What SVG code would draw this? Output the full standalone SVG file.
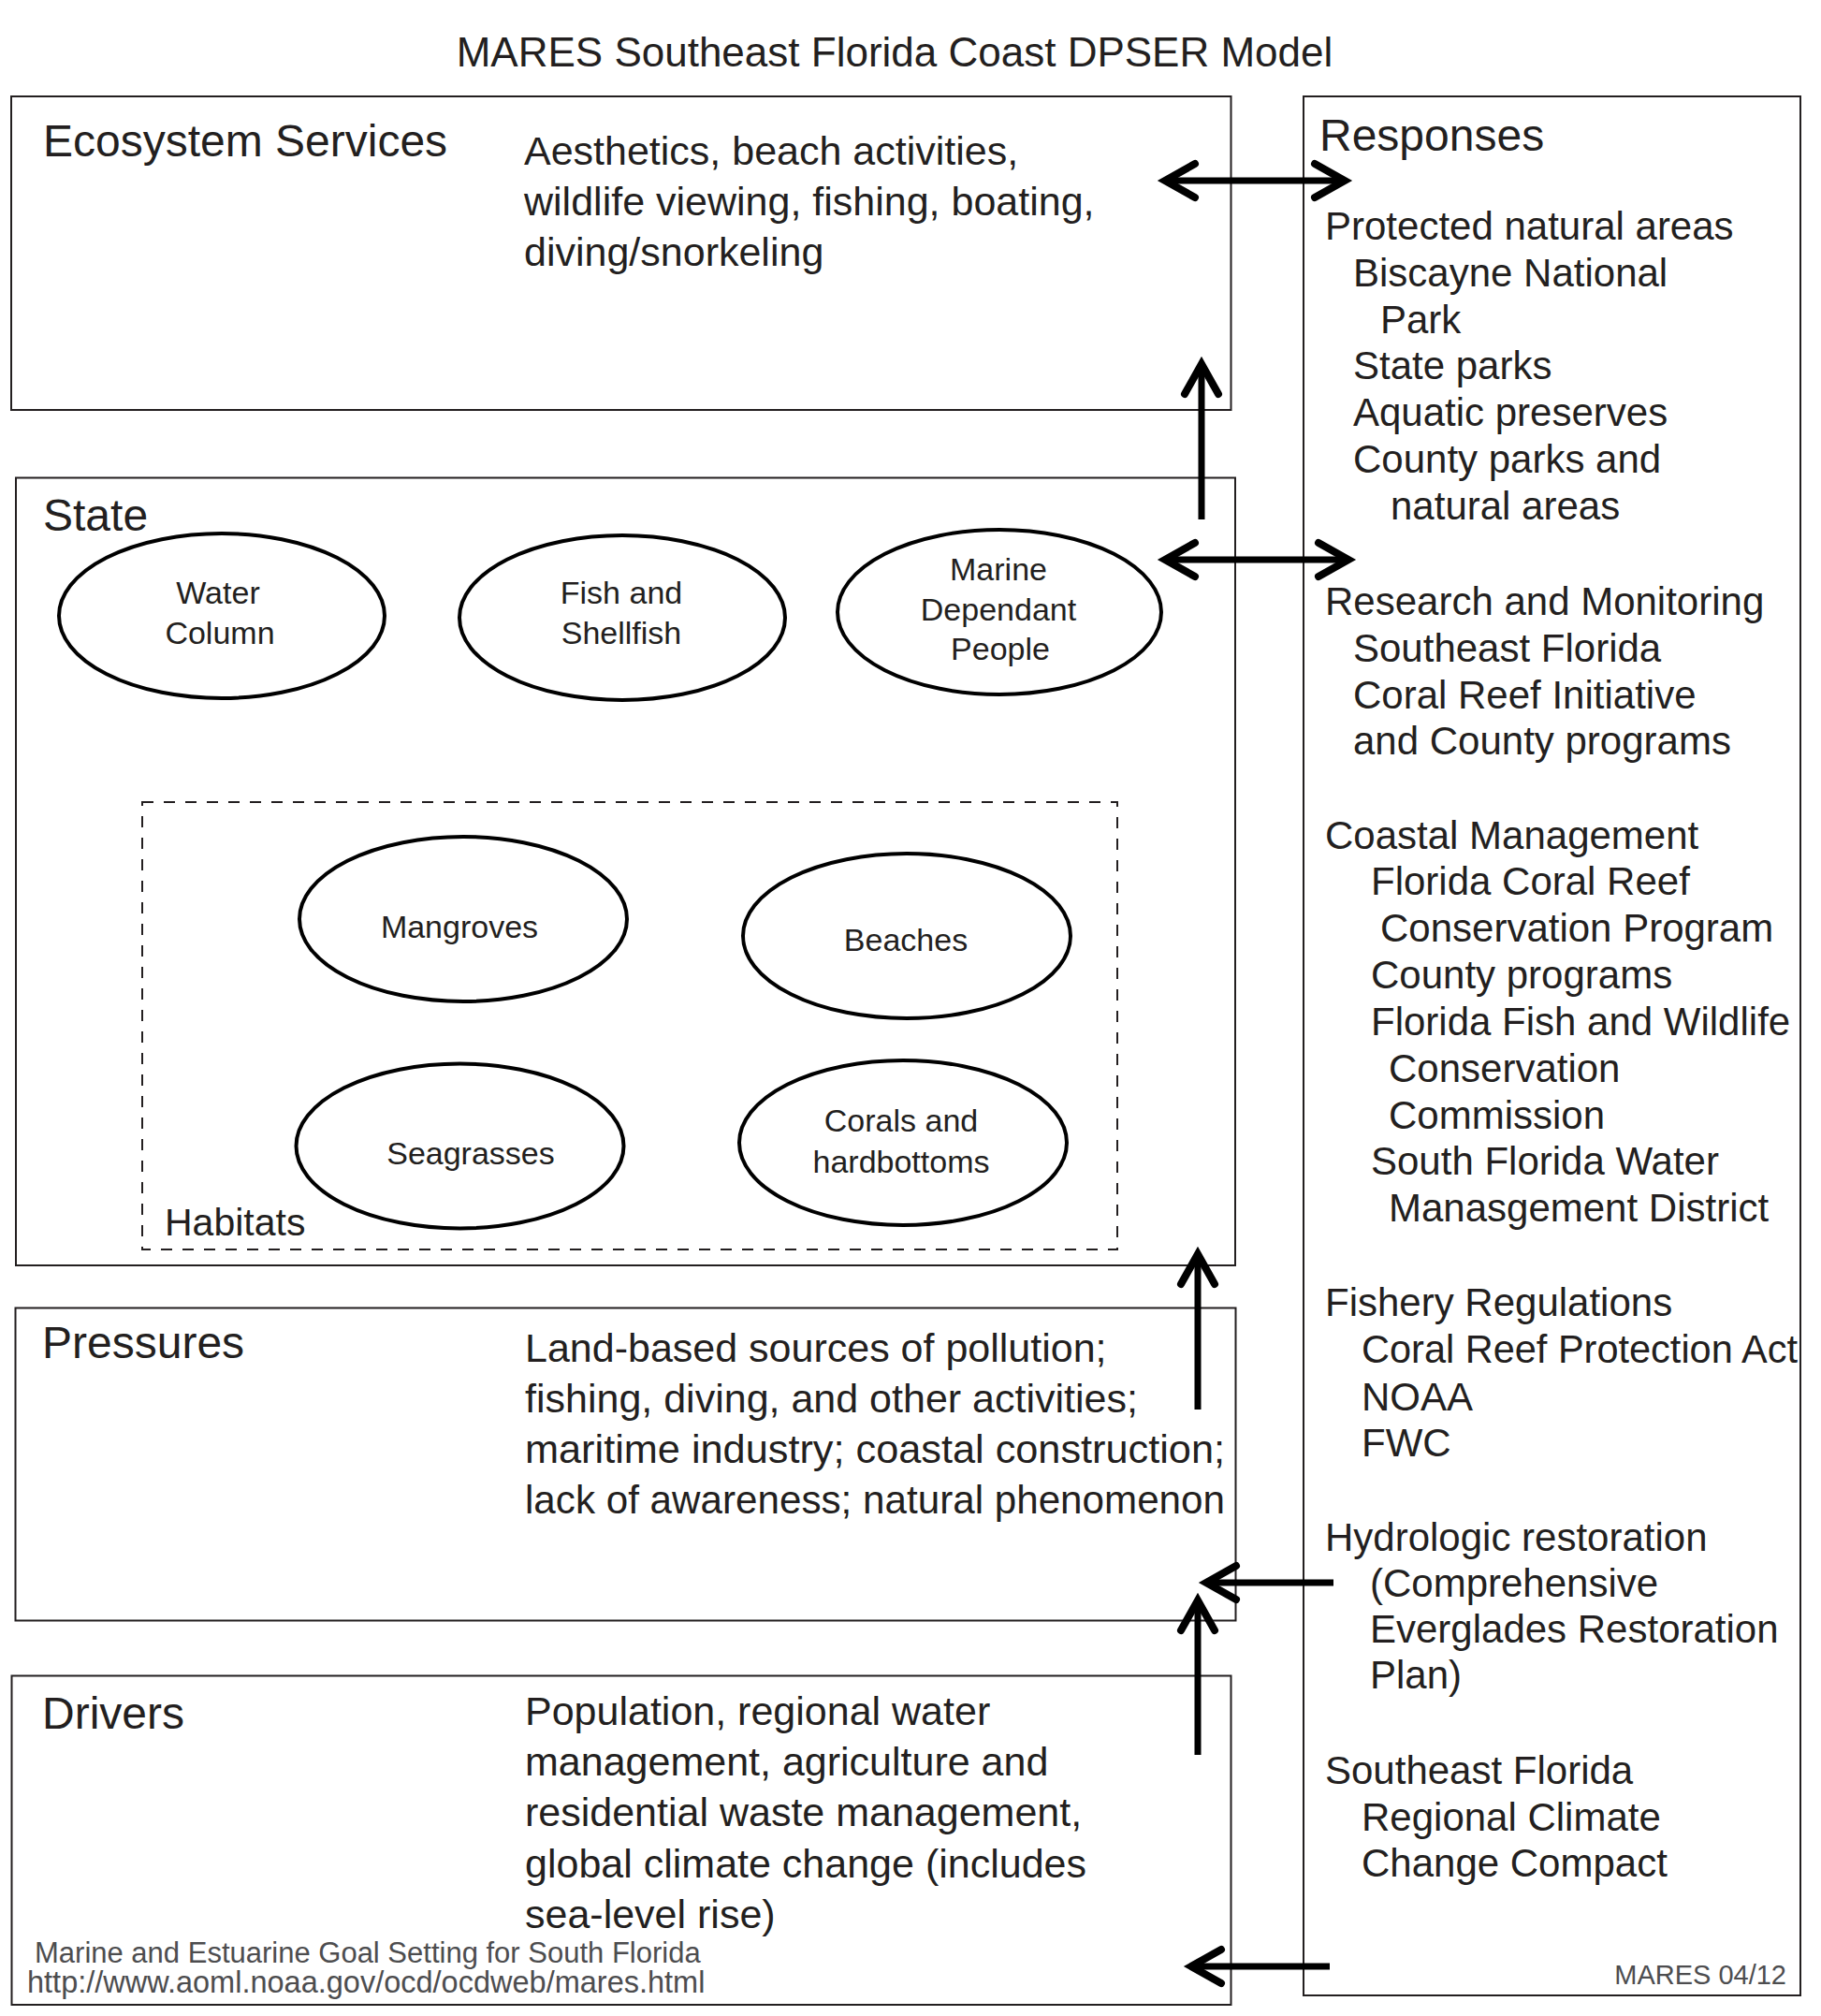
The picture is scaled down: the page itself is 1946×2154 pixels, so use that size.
<svg xmlns="http://www.w3.org/2000/svg" width="1946" height="2154" viewBox="0 0 1946 2154">
<style>
  text { font-family: "Liberation Sans", Arial, sans-serif; fill: #231f20; }
  .title { font-size: 44px; text-anchor: middle; }
  .head { font-size: 48px; }
  .body { font-size: 43px; }
  .resp { font-size: 42px; }
  .oval { font-size: 34px; text-anchor: middle; }
  .hab { font-size: 41px; }
  .foot { font-size: 31px; fill: #4d4d4f; }
  .box { fill: none; stroke: #231f20; stroke-width: 2; }
  .dash { fill: none; stroke: #231f20; stroke-width: 2; stroke-dasharray: 12 11; }
  .ell { fill: none; stroke: #000; stroke-width: 4; }
  .arr { fill: none; stroke: #000; stroke-width: 7; marker-end: url(#chev); }
  .arr2 { fill: none; stroke: #000; stroke-width: 7; marker-start: url(#chev); marker-end: url(#chev); }
</style>
<defs>
  <marker id="chev" markerUnits="userSpaceOnUse" markerWidth="80" markerHeight="80" viewBox="-50 -40 80 80" refX="0" refY="0" orient="auto-start-reverse" overflow="visible">
    <path d="M-32,-18 L0,0 L-32,18" fill="none" stroke="#000" stroke-width="8" stroke-linecap="round" stroke-linejoin="miter"/>
  </marker>
</defs>
<rect width="1946" height="2154" fill="#fff"/>
<text class="title" x="956" y="71">MARES Southeast Florida Coast DPSER Model</text>

<g id="ecosystem-services">
  <rect class="box" x="12" y="103" width="1303.5" height="335"/>
  <text class="head" x="46" y="167">Ecosystem Services</text>
  <text class="body" x="560" y="176">Aesthetics, beach activities,</text>
  <text class="body" x="560" y="230">wildlife viewing, fishing, boating,</text>
  <text class="body" x="560" y="284">diving/snorkeling</text>
</g>

<g id="state">
  <rect class="box" x="17" y="510.5" width="1303" height="841.5"/>
  <text class="head" x="46" y="567">State</text>
</g>
<g id="water-column">
  <ellipse class="ell" cx="237" cy="658" rx="174" ry="88"/>
  <text class="oval" x="233" y="645">Water</text>
  <text class="oval" x="235" y="688">Column</text>
</g>
<g id="fish-shellfish">
  <ellipse class="ell" cx="665" cy="660" rx="174" ry="88"/>
  <text class="oval" x="664" y="645">Fish and</text>
  <text class="oval" x="664" y="688">Shellfish</text>
</g>
<g id="marine-dependant-people">
  <ellipse class="ell" cx="1068" cy="654" rx="173" ry="88"/>
  <text class="oval" x="1067" y="620">Marine</text>
  <text class="oval" x="1067" y="663">Dependant</text>
  <text class="oval" x="1069" y="705">People</text>
</g>
<g id="habitats">
  <rect class="dash" x="152" y="857" width="1042" height="478"/>
  <text class="hab" x="176" y="1320">Habitats</text>
</g>
<g id="mangroves">
  <ellipse class="ell" cx="495" cy="982" rx="175" ry="88"/>
  <text class="oval" x="491" y="1002">Mangroves</text>
</g>
<g id="beaches">
  <ellipse class="ell" cx="969" cy="1000" rx="175" ry="88"/>
  <text class="oval" x="968" y="1016">Beaches</text>
</g>
<g id="seagrasses">
  <ellipse class="ell" cx="491.5" cy="1224.5" rx="175" ry="88"/>
  <text class="oval" x="503" y="1244">Seagrasses</text>
</g>
<g id="corals-hardbottoms">
  <ellipse class="ell" cx="965" cy="1221" rx="175" ry="88"/>
  <text class="oval" x="963" y="1209">Corals and</text>
  <text class="oval" x="963" y="1253">hardbottoms</text>
</g>

<g id="pressures">
  <rect class="box" x="16.5" y="1397.5" width="1304" height="334"/>
  <text class="head" x="45" y="1451">Pressures</text>
  <text class="body" x="561" y="1455">Land-based sources of pollution;</text>
  <text class="body" x="561" y="1509">fishing, diving, and other activities;</text>
  <text class="body" x="561" y="1563" textLength="748" lengthAdjust="spacingAndGlyphs">maritime industry; coastal construction;</text>
  <text class="body" x="561" y="1617" textLength="748" lengthAdjust="spacingAndGlyphs">lack of awareness; natural phenomenon</text>
</g>

<g id="drivers">
  <rect class="box" x="12.5" y="1790.5" width="1303" height="351.5"/>
  <text class="head" x="45" y="1847">Drivers</text>
  <text class="body" x="561" y="1843">Population, regional water</text>
  <text class="body" x="561" y="1897">management, agriculture and</text>
  <text class="body" x="561" y="1951">residential waste management,</text>
  <text class="body" x="561" y="2006">global climate change (includes</text>
  <text class="body" x="561" y="2060">sea-level rise)</text>
  <text class="foot" x="37" y="2097">Marine and Estuarine Goal Setting for South Florida</text>
  <text class="foot" x="29" y="2129" style="font-size:32.5px">http://www.aoml.noaa.gov/ocd/ocdweb/mares.html</text>
</g>

<g id="responses">
  <rect class="box" x="1393" y="103" width="531" height="2029"/>
  <text class="head" x="1410" y="161">Responses</text>
  <text class="resp" x="1416" y="256">Protected natural areas</text>
  <text class="resp" x="1446" y="306">Biscayne National</text>
  <text class="resp" x="1475" y="356">Park</text>
  <text class="resp" x="1446" y="405">State parks</text>
  <text class="resp" x="1446" y="455">Aquatic preserves</text>
  <text class="resp" x="1446" y="505">County parks and</text>
  <text class="resp" x="1486" y="555">natural areas</text>
  <text class="resp" x="1416" y="657">Research and Monitoring</text>
  <text class="resp" x="1446" y="707">Southeast Florida</text>
  <text class="resp" x="1446" y="757">Coral Reef Initiative</text>
  <text class="resp" x="1446" y="806">and County programs</text>
  <text class="resp" x="1416" y="907">Coastal Management</text>
  <text class="resp" x="1465" y="956">Florida Coral Reef</text>
  <text class="resp" x="1475" y="1006">Conservation Program</text>
  <text class="resp" x="1465" y="1056">County programs</text>
  <text class="resp" x="1465" y="1106">Florida Fish and Wildlife</text>
  <text class="resp" x="1484" y="1156">Conservation</text>
  <text class="resp" x="1484" y="1206">Commission</text>
  <text class="resp" x="1465" y="1255">South Florida Water</text>
  <text class="resp" x="1484" y="1305">Manasgement District</text>
  <text class="resp" x="1416" y="1406">Fishery Regulations</text>
  <text class="resp" x="1455" y="1456" textLength="466" lengthAdjust="spacingAndGlyphs">Coral Reef Protection Act</text>
  <text class="resp" x="1455" y="1507">NOAA</text>
  <text class="resp" x="1455" y="1556">FWC</text>
  <text class="resp" x="1416" y="1657">Hydrologic restoration</text>
  <text class="resp" x="1464" y="1706">(Comprehensive</text>
  <text class="resp" x="1464" y="1755">Everglades Restoration</text>
  <text class="resp" x="1464" y="1804">Plan)</text>
  <text class="resp" x="1416" y="1906">Southeast Florida</text>
  <text class="resp" x="1455" y="1956">Regional Climate</text>
  <text class="resp" x="1455" y="2005">Change Compact</text>
  <text class="foot" x="1909" y="2120" text-anchor="end" style="font-size:29px">MARES 04/12</text>
</g>

<g id="connectors">
  <path class="arr2" d="M1245,193 L1437,193"/>
  <path class="arr2" d="M1245,598 L1441,598"/>
  <path class="arr" d="M1284,555 L1284,389"/>
  <path class="arr" d="M1280,1506 L1280,1340"/>
  <path class="arr" d="M1280,1875 L1280,1710"/>
  <path class="arr" d="M1425,1691 L1289,1691"/>
  <path class="arr" d="M1421,2101 L1273,2101"/>
</g>
</svg>
